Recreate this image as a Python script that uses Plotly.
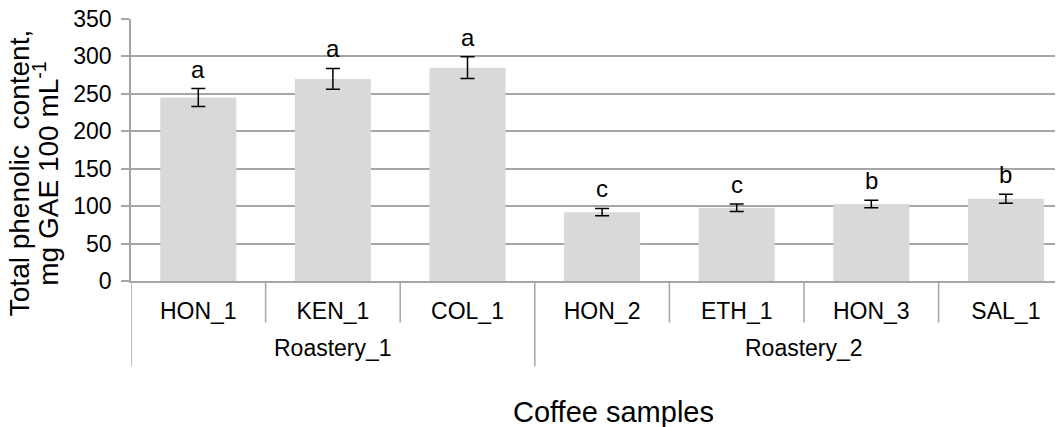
import plotly.graph_objects as go

samples = ["HON_1", "KEN_1", "COL_1", "HON_2", "ETH_1", "HON_3", "SAL_1"]
groups = ["Roastery_1", "Roastery_1", "Roastery_1", "Roastery_2", "Roastery_2", "Roastery_2", "Roastery_2"]
tpc = [245, 270, 285, 92, 98, 103, 110]
tpc_err = [12, 14, 14.5, 5, 5, 5, 6]
letters = ["a", "a", "a", "c", "c", "b", "b"]
y_ticks = [0, 50, 100, 150, 200, 250, 300, 350]
y_title_lines = ["Total phenolic\u00a0 content,", "mg GAE 100 mL<sup>-1</sup>"]

FONT = "Liberation Sans, Arial, sans-serif"
GRID = "#a6a6a6"

# the page body adds an 8px offset; positions below are in screenshot pixels
OFF = 8
W, H = 1063, 427
ML, MT = 131 - OFF, 19 - OFF
PH = 262.5
MB = H - MT - PH
MR = 0
PW = W - ML - MR
CAT_PX = 134.6

def px_x(p):
    return (p - OFF - ML) / PW

def px_y(p):
    return (MT + PH - (p - OFF)) / PH

fig = go.Figure()
fig.add_trace(go.Bar(
    x=samples, y=tpc,
    marker=dict(color="#d9d9d9", line=dict(width=0)),
    error_y=dict(type="data", array=tpc_err, color="#000000", thickness=1.5, width=7),
    hoverinfo="skip",
))

annotations = []
for s, v, e, l in zip(samples, tpc, tpc_err, letters):
    annotations.append(dict(x=s, y=v + e, xref="x", yref="y", text=l, showarrow=False,
                            yanchor="bottom", yshift=4, font=dict(family=FONT, size=24, color="#000")))

uniq = []
for g in groups:
    if g not in uniq:
        uniq.append(g)
for g in uniq:
    idx = [i for i, gg in enumerate(groups) if gg == g]
    start, end = idx[0] - 0.5, idx[-1] + 0.5
    annotations.append(dict(x=(start + end) / 2, y=px_y(349), xref="x", yref="paper", text=g,
                            showarrow=False, yanchor="middle",
                            font=dict(family=FONT, size=23, color="#000")))

for line, xr in zip(y_title_lines, [37, 66]):
    annotations.append(dict(x=px_x(xr), y=px_y(174), xref="paper", yref="paper",
                            text=line, textangle=-90, showarrow=False,
                            xanchor="right", yanchor="middle",
                            font=dict(family=FONT, size=28, color="#000")))
annotations.append(dict(x=px_x(613), y=px_y(413), xref="paper", yref="paper",
                        text="Coffee samples", showarrow=False, xanchor="center", yanchor="middle",
                        font=dict(family=FONT, size=29, color="#000")))

shapes = []
n = len(samples)
for i in range(n):
    b = i - 0.5
    is_group = (i == 0) or (groups[i] != groups[i - 1])
    y1 = px_y(367) if is_group else px_y(323)
    shapes.append(dict(type="line", xref="x", yref="paper", x0=b, x1=b, y0=0, y1=y1,
                       line=dict(color=GRID, width=1.5)))
shapes.append(dict(type="line", xref="x", yref="paper", x0=n - 0.5, x1=n - 0.5, y0=0, y1=px_y(367),
                   line=dict(color=GRID, width=1.5)))

fig.update_layout(
    width=W, height=H,
    margin=dict(l=ML, r=MR, t=MT, b=MB, autoexpand=False),
    plot_bgcolor="white", paper_bgcolor="white",
    showlegend=False,
    bargap=0.435,
    annotations=annotations,
    shapes=shapes,
    font=dict(family=FONT, color="#000"),
)
fig.update_xaxes(
    type="category", range=[-0.5, -0.5 + PW / CAT_PX],
    showline=True, linecolor=GRID, linewidth=1.5,
    showgrid=False, ticks="", ticklabelstandoff=9,
    tickfont=dict(family=FONT, size=23, color="#000"),
)
fig.update_yaxes(
    range=[0, 350], tickvals=y_ticks,
    showline=True, linecolor=GRID, linewidth=1.5,
    showgrid=True, gridcolor=GRID, gridwidth=1.5,
    ticks="outside", ticklen=8, tickcolor=GRID, tickwidth=1.5,
    ticklabelstandoff=5, zeroline=False, ticklabeloverflow="allow",
    tickfont=dict(family=FONT, size=23, color="#000"),
)

fig.write_html("out.html")
